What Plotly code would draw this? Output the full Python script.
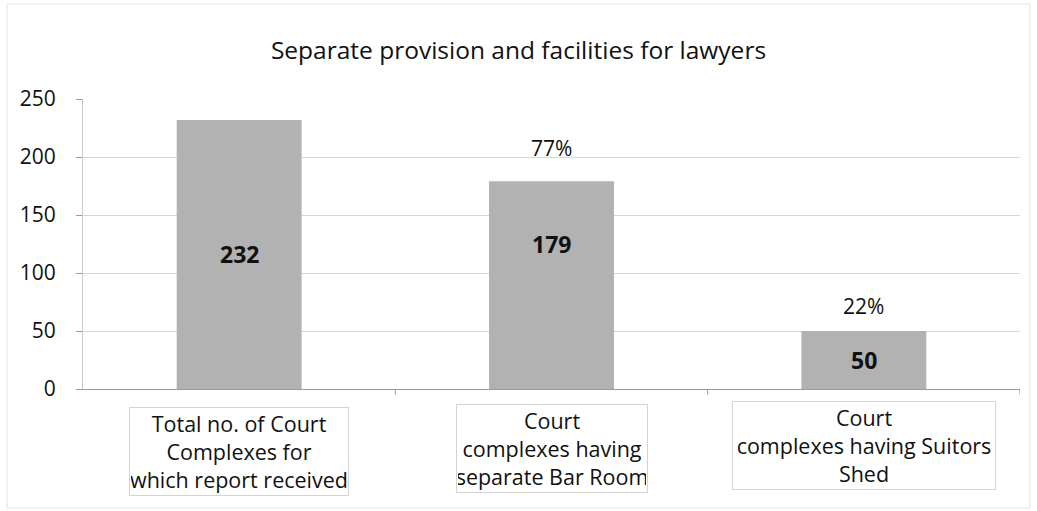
import plotly.graph_objects as go

# ---- data ----
categories = [
    "Total no. of Court<br>Complexes for<br>which report received",
    "Court<br>complexes having<br>separate Bar Room",
    "Court<br>complexes having Suitors<br>Shed",
]
values = [232, 179, 50]
percent_labels = ["", "77%", "22%"]
y_ticks = [0, 50, 100, 150, 200, 250]
title_text = "Separate provision and facilities for lawyers"

# ---- style ----
FONT = "Open Sans"
bar_color = "#b2b2b2"
inner_frac = [0.5, 0.7, 0.5]      # where the bold value label sits inside each bar
pct_shift = [0, 30, 22]           # px above bar top for percentage labels
label_box_w = [216, 188, 260]
label_box_y = [-0.063, -0.05, -0.04]

W, H = 1037, 511
L, R, T, B = 83, 17, 99, 122
PW, PH = W - L - R, H - T - B

x_idx = list(range(len(categories)))

fig = go.Figure()
fig.add_trace(go.Bar(
    x=x_idx, y=values, width=0.4,
    marker=dict(color=bar_color, line=dict(width=0)),
    hoverinfo="skip",
))

ann = []
for i, v in enumerate(values):
    ann.append(dict(x=i, y=v * inner_frac[i], xref="x", yref="y", text=f"<b>{v}</b>",
                    showarrow=False, font=dict(family=FONT, size=23, color="#111"),
                    yanchor="middle"))
    if percent_labels[i]:
        ann.append(dict(x=i, y=v, xref="x", yref="y", text=percent_labels[i],
                        showarrow=False, font=dict(family=FONT, size=21, color="#111"),
                        yanchor="bottom", yshift=pct_shift[i] - 13))
    ann.append(dict(x=i, y=label_box_y[i], xref="x", yref="paper", text=categories[i],
                    showarrow=False, font=dict(family=FONT, size=21.5, color="#111"),
                    yanchor="top", align="center", width=label_box_w[i],
                    bordercolor="#d4d4d4", borderwidth=1, borderpad=1))

fig.update_layout(
    width=W, height=H,
    margin=dict(l=L, r=R, t=T, b=B),
    paper_bgcolor="white", plot_bgcolor="white",
    showlegend=False,
    title=dict(text=title_text, x=0.5, xanchor="center", xref="container",
               y=1 - 50 / H, yanchor="middle",
               font=dict(family=FONT, size=24.5, color="#111")),
    annotations=ann,
    xaxis=dict(
        range=[-0.5, 2.5], tickvals=x_idx, ticktext=["", "", ""],
        showline=True, linecolor="#9a9a9a", linewidth=1,
        ticks="", showgrid=False, zeroline=False,
    ),
    yaxis=dict(
        range=[0, 250], tickvals=y_ticks,
        showline=True, linecolor="#c8c8c8", linewidth=1,
        ticks="outside", ticklen=6, tickcolor="#9a9a9a",
        ticklabelstandoff=16,
        gridcolor="#d6d6d6", gridwidth=1, zeroline=False,
        tickfont=dict(family=FONT, size=21, color="#111"),
    ),
    shapes=[
        dict(type="rect", xref="paper", yref="paper",
             x0=(7 - L) / PW, x1=(1030 - L) / PW,
             y0=-(508 - (H - B)) / PH, y1=1 + (T - 4) / PH,
             line=dict(color="#e2e2e2", width=1)),
    ] + [
        dict(type="line", xref="x", yref="paper", x0=b, x1=b, y0=0, y1=-0.02,
             line=dict(color="#9a9a9a", width=1)) for b in [0.5, 1.5, 2.5]
    ],
)

fig.write_html("out.html", config={"displayModeBar": False},
               post_script="document.body.style.margin='0';document.body.style.overflow='hidden';")
